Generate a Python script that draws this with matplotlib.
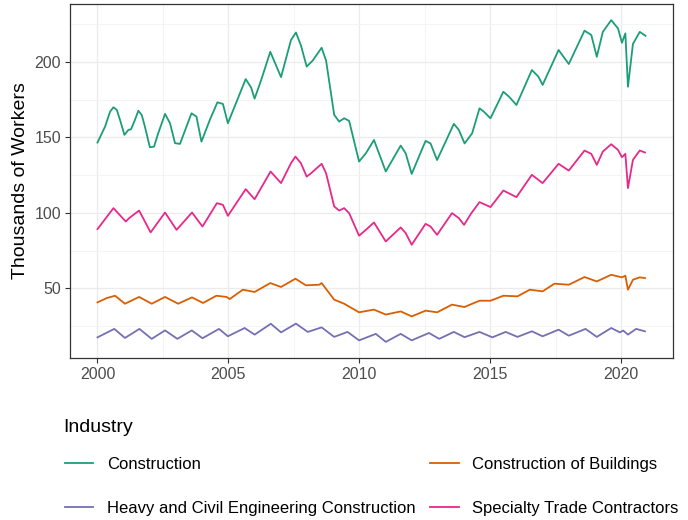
import matplotlib
matplotlib.use("Agg")
import matplotlib.pyplot as plt
from matplotlib.lines import Line2D

plt.rcParams['font.family'] = ['Liberation Sans', 'DejaVu Sans']

# values (decimal year, thousands of workers)
con_t = [2000.00, 2000.29, 2000.48, 2000.61, 2000.74, 2000.86, 2001.03, 2001.18, 2001.28, 2001.43,
         2001.56, 2001.69, 2001.81, 2002.00, 2002.16, 2002.32, 2002.58, 2002.77, 2002.96, 2003.15,
         2003.59, 2003.78, 2003.97, 2004.29, 2004.58, 2004.79, 2004.98, 2005.66, 2005.87, 2006.00,
         2006.25, 2006.60, 2007.01, 2007.39, 2007.58, 2007.77, 2007.99, 2008.22, 2008.56, 2008.73,
         2009.04, 2009.23, 2009.42, 2009.61, 2009.99, 2010.25, 2010.56, 2011.01, 2011.58, 2011.77,
         2012.00, 2012.53, 2012.72, 2012.97, 2013.61, 2013.80, 2014.02, 2014.31, 2014.59, 2014.76,
         2015.01, 2015.50, 2015.72, 2016.00, 2016.59, 2016.84, 2017.00, 2017.61, 2018.00, 2018.60,
         2018.86, 2019.07, 2019.30, 2019.62, 2019.88, 2020.03, 2020.16, 2020.26, 2020.45, 2020.71,
         2020.93]
con_v = [146.6, 157.2, 167.1, 170.0, 168.2, 161.6, 151.7, 155.0, 155.4, 161.6,
         167.7, 164.9, 157.2, 143.5, 143.9, 152.8, 165.6, 159.4, 146.2, 145.7,
         166.0, 163.8, 147.2, 161.6, 173.3, 172.2, 159.4, 188.7, 183.0, 175.7,
         188.0, 206.8, 190.0, 214.6, 219.6, 211.0, 197.0, 201.0, 209.5, 201.0,
         165.0, 160.5, 162.7, 161.0, 134.0, 139.5, 148.3, 127.4, 144.6, 139.5,
         125.8, 147.7, 146.0, 135.0, 159.0, 155.0, 146.0, 152.8, 169.3, 167.0,
         162.7, 180.3, 177.0, 171.5, 194.7, 190.3, 184.8, 208.0, 198.7, 220.8,
         217.9, 203.5, 220.0, 227.8, 222.3, 212.8, 219.0, 183.6, 212.0, 220.0,
         217.4]

bld_t = [2000.00, 2000.36, 2000.67, 2001.05, 2001.59, 2002.07, 2002.58, 2003.08, 2003.61, 2004.03,
         2004.54, 2004.93, 2005.05, 2005.55, 2006.00, 2006.60, 2007.01, 2007.56, 2007.96, 2008.47,
         2008.56, 2009.04, 2009.42, 2009.99, 2010.56, 2011.01, 2011.58, 2012.00, 2012.53, 2012.97,
         2013.54, 2014.01, 2014.59, 2015.01, 2015.50, 2016.04, 2016.51, 2017.00, 2017.45, 2018.00,
         2018.60, 2019.07, 2019.62, 2020.03, 2020.16, 2020.26, 2020.45, 2020.71, 2020.91]
bld_v = [40.6, 43.5, 45.0, 39.7, 44.2, 39.7, 44.2, 39.7, 43.9, 40.2,
         45.0, 44.2, 42.8, 49.0, 47.5, 53.4, 50.8, 56.3, 51.9, 52.3,
         53.4, 42.4, 39.7, 34.0, 35.8, 32.5, 34.6, 31.3, 35.1, 34.0,
         39.1, 37.5, 41.7, 41.7, 45.0, 44.6, 49.0, 47.9, 53.0, 52.3,
         57.4, 54.5, 58.9, 57.2, 58.3, 49.0, 55.6, 57.2, 56.7]

hvy_t = [2000.00, 2000.64, 2001.05, 2001.60, 2002.07, 2002.58, 2003.05, 2003.60, 2004.01, 2004.64,
         2004.98, 2005.62, 2006.00, 2006.62, 2007.01, 2007.58, 2008.03, 2008.56, 2009.04, 2009.55,
         2009.99, 2010.63, 2011.01, 2011.58, 2012.00, 2012.66, 2013.05, 2013.61, 2014.02, 2014.59,
         2015.08, 2015.59, 2016.04, 2016.59, 2017.00, 2017.61, 2018.00, 2018.64, 2019.07, 2019.62,
         2019.95, 2020.08, 2020.26, 2020.57, 2020.91]
hvy_v = [17.4, 23.0, 17.0, 23.0, 16.4, 22.0, 16.4, 22.0, 16.8, 23.0,
         18.1, 23.6, 19.2, 26.4, 20.7, 26.5, 21.0, 24.0, 17.7, 21.0,
         15.4, 19.7, 14.4, 19.7, 15.4, 20.3, 16.4, 21.0, 17.5, 21.0,
         17.4, 21.0, 17.7, 21.4, 18.1, 22.5, 18.5, 23.0, 17.7, 23.6,
         20.7, 21.9, 19.2, 23.0, 21.4]

spc_t = [2000.00, 2000.61, 2001.08, 2001.21, 2001.59, 2002.03, 2002.58, 2003.02, 2003.61, 2004.01,
         2004.56, 2004.79, 2004.98, 2005.66, 2006.00, 2006.61, 2007.01, 2007.39, 2007.56, 2007.77,
         2007.99, 2008.16, 2008.56, 2008.73, 2009.04, 2009.23, 2009.42, 2009.61, 2009.99, 2010.25,
         2010.56, 2011.01, 2011.58, 2011.77, 2012.00, 2012.53, 2012.72, 2012.97, 2013.54, 2013.80,
         2014.00, 2014.28, 2014.59, 2015.01, 2015.50, 2016.00, 2016.59, 2017.00, 2017.61, 2018.00,
         2018.60, 2018.86, 2019.07, 2019.30, 2019.62, 2019.88, 2020.03, 2020.16, 2020.26, 2020.45,
         2020.71, 2020.91]
spc_v = [89.2, 103.1, 94.2, 96.5, 101.5, 87.0, 100.2, 88.7, 100.2, 90.9,
         106.4, 105.3, 98.0, 115.7, 109.0, 127.4, 119.7, 132.9, 137.3, 132.9,
         124.0, 126.3, 132.5, 126.3, 104.2, 101.5, 103.1, 99.8, 84.8, 88.7,
         93.6, 81.0, 90.3, 86.6, 78.8, 92.7, 90.9, 85.4, 99.8, 96.5,
         92.0, 99.8, 107.1, 103.8, 114.8, 110.4, 125.2, 119.7, 132.5, 128.0,
         141.3, 139.1, 131.8, 140.6, 145.5, 141.7, 136.9, 139.1, 116.4, 135.1,
         141.3, 140.0]

labels = ["Construction", "Construction of Buildings",
          "Heavy and Civil Engineering Construction", "Specialty Trade Contractors"]
colors = ["#1B9E77", "#D95F02", "#7570B3", "#E7298A"]

fig = plt.figure(figsize=(6.88, 5.2), dpi=100)
ax = fig.add_axes([70 / 688, 1 - 358 / 520, 603 / 688, 354 / 520])

series = [(con_t, con_v), (bld_t, bld_v), (hvy_t, hvy_v), (spc_t, spc_v)]
for (t, v), c in zip(series, colors):
    ax.plot(t, v, color=c, lw=1.3, solid_joinstyle="round")

ax.set_xlim(1998.95, 2021.98)
ax.set_ylim(3.7, 238.5)
ax.set_xticks([2000, 2005, 2010, 2015, 2020])
ax.set_xticks([2002.5, 2007.5, 2012.5, 2017.5], minor=True)
ax.set_yticks([50, 100, 150, 200])
ax.set_yticks([25, 75, 125, 175, 225], minor=True)
ax.grid(which="major", color="#EBEBEB", lw=0.9)
ax.grid(which="minor", color="#F3F3F3", lw=0.6)
ax.set_axisbelow(True)
for s in ax.spines.values():
    s.set_color("#333333")
    s.set_linewidth(0.9)
ax.tick_params(which="major", length=3.5, color="#333333", labelsize=11.5,
               labelcolor="#4D4D4D", pad=3)
ax.tick_params(which="minor", length=0)
ax.set_ylabel("Thousands of Workers", fontsize=14, labelpad=4)

# legend below the panel, title drawn separately
fig.text(63 / 688, 1 - 427 / 520, "Industry", fontsize=14, va="center", ha="left")
handles = [Line2D([], [], color=c, lw=1.3) for c in colors]
order = [0, 2, 1, 3]
leg = fig.legend([handles[i] for i in order], [labels[i] for i in order],
                 ncol=2, loc="upper left", bbox_to_anchor=(50 / 688, 1 - 442 / 520),
                 frameon=False, fontsize=12, handlelength=1.7, handletextpad=0.8,
                 labelspacing=1.75, columnspacing=0.9)

fig.savefig("out.png", dpi=100)
